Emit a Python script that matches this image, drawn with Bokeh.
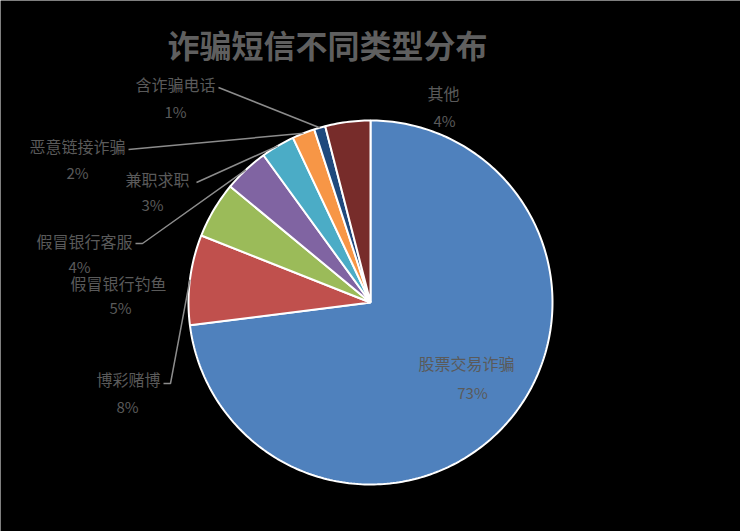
import numpy as np
from bokeh.plotting import figure
from bokeh.models import Range1d, ColumnDataSource
from bokeh.core.properties import value
from bokeh.embed import file_html
from bokeh.resources import INLINE

# ---- data ----
title_text = "诈骗短信不同类型分布"
categories = ["股票交易诈骗", "博彩赌博", "假冒银行钓鱼", "假冒银行客服",
              "兼职求职", "恶意链接诈骗", "含诈骗电话", "其他"]
shares = [73, 8, 5, 4, 3, 2, 1, 4]
colors = ["#4F81BD", "#C0504D", "#9BBB59", "#8064A2",
          "#4BACC6", "#F79646", "#1F497D", "#772C2A"]

# ---- layout (page pixel coordinates) ----
W, H = 740, 531
CX, CY, RX, RY = 370, 302, 182, 182
name_x = [466, 128, 118, 84, 157, 77, 175, 443]
name_y = [362, 378, 282, 240, 178, 145, 83, 92]
pct_x = [472, 127, 120, 79, 152, 77, 175, 444]
pct_y = [392, 406, 307, 266, 204, 172, 111, 120]
leader_starts = {1: [(163, 383), (170, 383)], 3: [(135, 243), (142, 243)],
                 4: [(196, 182)], 5: [(128, 149)], 6: [(218, 87)]}

p = figure(width=W, height=H, output_backend="svg", toolbar_location=None,
           x_range=Range1d(0, W), y_range=Range1d(H, 0),
           x_axis_type=None, y_axis_type=None, min_border=0)
p.grid.visible = False
p.outline_line_color = None
p.background_fill_color = "black"
p.border_fill_color = "black"

total = float(sum(shares))
fr = np.cumsum([0] + shares) / total
xs, ys, mids = [], [], []
for i in range(len(shares)):
    a0, a1 = fr[i] * 2 * np.pi, fr[i + 1] * 2 * np.pi
    n = max(3, int(np.degrees(a1 - a0)) + 2)
    t = np.linspace(a0, a1, n)
    xs.append([CX] + list(CX + RX * np.sin(t)))
    ys.append([CY] + list(CY - RY * np.cos(t)))
    am = (a0 + a1) / 2
    mids.append((CX + RX * np.sin(am), CY - RY * np.cos(am)))

p.patches(xs=xs, ys=ys, fill_color=colors, line_color="white", line_width=2)

# leader lines
lx, ly = [], []
for i, pts in leader_starts.items():
    lx.append([q[0] for q in pts] + [mids[i][0]])
    ly.append([q[1] for q in pts] + [mids[i][1]])
p.multi_line(xs=lx, ys=ly, line_color="#8c8c8c", line_width=1.5)

pct_labels = [f"{s}%" for s in shares]
src = ColumnDataSource(dict(nx=name_x, ny=name_y, px=pct_x, py=pct_y,
                            name=categories, pct=pct_labels))
font = value("Noto Sans CJK SC")
p.text(x="nx", y="ny", text="name", source=src, text_align="center",
       text_baseline="middle", text_font=font, text_font_size="16px",
       text_color="#5a5a5a")
p.text(x="px", y="py", text="pct", source=src, text_align="center",
       text_baseline="middle", text_font=font, text_font_size="15px",
       text_color="#5a5a5a")

p.text(x=[327], y=[43], text=[title_text], text_align="center",
       text_baseline="middle", text_font=font, text_font_size="32px",
       text_font_style="bold", text_color="#5f5f5f")

open("out.html", "w").write(file_html(p, INLINE))
